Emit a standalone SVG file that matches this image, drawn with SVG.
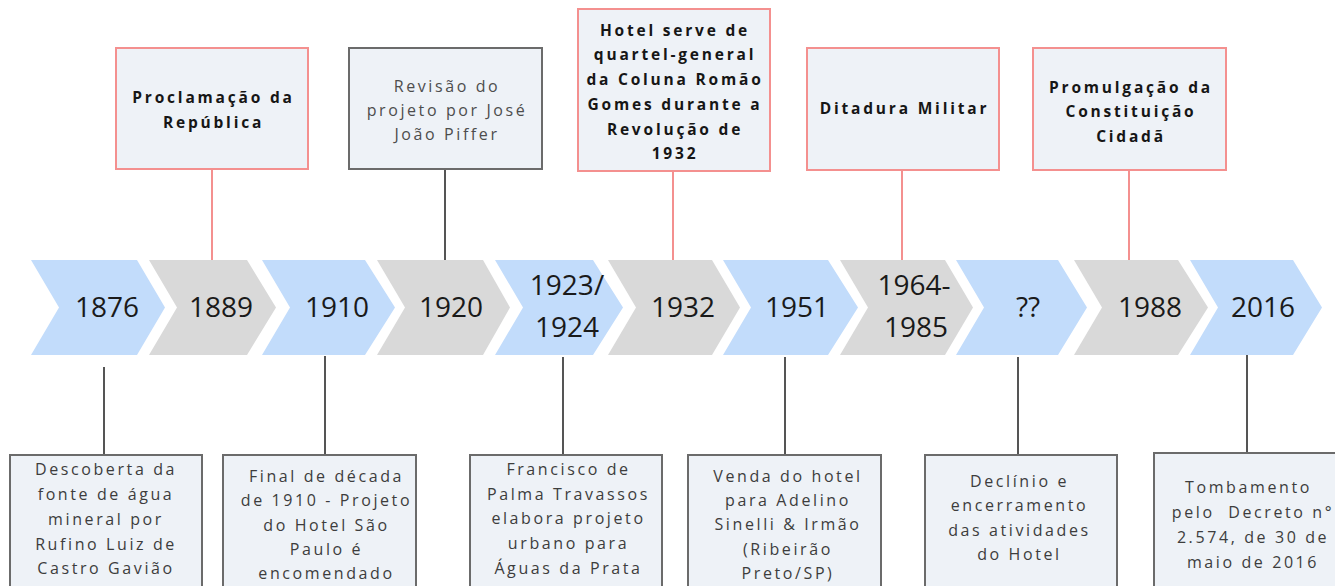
<svg xmlns="http://www.w3.org/2000/svg" width="1335" height="586" viewBox="0 0 1335 586">
<style>
.bg{fill:#ffffff}
.blue{fill:#c2dcfb}
.gray{fill:#d9d9d9}
.yr{font-family:"Open Sans","Noto Sans",sans-serif;font-weight:400;font-size:28px;fill:#1a1a1a;text-anchor:middle}
.boxr{fill:#eef2f7;stroke:#f4908f;stroke-width:2}
.boxg{fill:#eef2f7;stroke:#6b6b6b;stroke-width:2}
.tb{font-family:"Open Sans","Noto Sans",sans-serif;font-weight:700;font-size:15.5px;letter-spacing:2.8px;fill:#161616;text-anchor:middle}
.tr{font-family:"Open Sans","Noto Sans",sans-serif;font-weight:400;font-size:16px;letter-spacing:2.6px;fill:#3d3d3d;text-anchor:middle}
.tg{font-family:"Open Sans","Noto Sans",sans-serif;font-weight:400;font-size:16px;letter-spacing:2.6px;fill:#4d4d4d;text-anchor:middle}
.cr{stroke:#f4908f;stroke-width:2;fill:none}
.cg{stroke:#555;stroke-width:2;fill:none}
</style>
<rect class="bg" x="0" y="0" width="1335" height="586"/>
<g id="connectors">
<line class="cr" x1="212" y1="169" x2="212" y2="260"/>
<line class="cg" x1="445" y1="169" x2="445" y2="260"/>
<line class="cr" x1="673" y1="171" x2="673" y2="260"/>
<line class="cr" x1="902" y1="170" x2="902" y2="260"/>
<line class="cr" x1="1129" y1="170" x2="1129" y2="260"/>
<line class="cg" x1="104" y1="367" x2="104" y2="455"/>
<line class="cg" x1="325" y1="356" x2="325" y2="455"/>
<line class="cg" x1="563" y1="357" x2="563" y2="455"/>
<line class="cg" x1="785" y1="357" x2="785" y2="455"/>
<line class="cg" x1="1018" y1="357" x2="1018" y2="455"/>
<line class="cg" x1="1247" y1="354" x2="1247" y2="453"/>
</g>
<g id="timeline">
<g id="y1876"><polygon class="blue" points="31,260 137,260 165,307.5 137,355 31,355 59,307.5"/><text class="yr" x="107" y="317">1876</text></g>
<g id="y1889"><polygon class="gray" points="149,260 247,260 276,307.5 247,355 149,355 177,307.5"/><text class="yr" x="221" y="317">1889</text></g>
<g id="y1910"><polygon class="blue" points="262,260 365,260 395,307.5 365,355 262,355 290,307.5"/><text class="yr" x="337" y="317">1910</text></g>
<g id="y1920"><polygon class="gray" points="377,260 483,260 510,307.5 483,355 377,355 405,307.5"/><text class="yr" x="451" y="317">1920</text></g>
<g id="y1923"><polygon class="blue" points="495,260 593,260 623,307.5 593,355 495,355 523,307.5"/><text class="yr" x="567" y="295">1923/</text><text class="yr" x="567" y="337">1924</text></g>
<g id="y1932"><polygon class="gray" points="608,260 712,260 740,307.5 712,355 608,355 636,307.5"/><text class="yr" x="683" y="317">1932</text></g>
<g id="y1951"><polygon class="blue" points="723,260 828,260 858,307.5 828,355 723,355 751,307.5"/><text class="yr" x="797" y="317">1951</text></g>
<g id="y1964"><polygon class="gray" points="840,260 945,260 973,307.5 945,355 840,355 868,307.5"/><text class="yr" x="914" y="295">1964-</text><text class="yr" x="916" y="337">1985</text></g>
<g id="yqq"><polygon class="blue" points="956,260 1058,260 1087,307.5 1058,355 956,355 984,307.5"/><text class="yr" x="1028" y="317">??</text></g>
<g id="y1988"><polygon class="gray" points="1074,260 1178,260 1208,307.5 1178,355 1074,355 1102,307.5"/><text class="yr" x="1150" y="317">1988</text></g>
<g id="y2016"><polygon class="blue" points="1190,260 1293,260 1322,307.5 1293,355 1190,355 1218,307.5"/><text class="yr" x="1263" y="317">2016</text></g>
</g>
<g id="top1"><rect class="boxr" x="116" y="48" width="192" height="121"/>
<text class="tb" x="213.5" y="103">Proclamação da</text><text class="tb" x="213.5" y="128">República</text></g>
<g id="top2"><rect class="boxg" x="349" y="48" width="193" height="121"/>
<text class="tg" x="447" y="92">Revisão do</text><text class="tg" x="447" y="116">projeto por José</text><text class="tg" x="447" y="140">João Piffer</text></g>
<g id="top3"><rect class="boxr" x="578" y="9" width="192" height="162"/>
<text class="tb" x="675" y="36">Hotel serve de</text><text class="tb" x="675" y="60">quartel-general</text><text class="tb" x="675" y="85">da Coluna Romão</text><text class="tb" x="675" y="110">Gomes durante a</text><text class="tb" x="675" y="135">Revolução de</text><text class="tb" x="675" y="159">1932</text></g>
<g id="top4"><rect class="boxr" x="807" y="48" width="192" height="122"/>
<text class="tb" x="904.5" y="114">Ditadura Militar</text></g>
<g id="top5"><rect class="boxr" x="1033" y="48" width="193" height="122"/>
<text class="tb" x="1131" y="93">Promulgação da</text><text class="tb" x="1131" y="117">Constituição</text><text class="tb" x="1131" y="142">Cidadã</text></g>
<g id="bot1"><rect class="boxg" x="10" y="455" width="192" height="150"/>
<text class="tr" x="106" y="475">Descoberta da</text><text class="tr" x="106" y="500">fonte de água</text><text class="tr" x="106" y="525">mineral por</text><text class="tr" x="106" y="550">Rufino Luiz de</text><text class="tr" x="106" y="574">Castro Gavião</text></g>
<g id="bot2"><rect class="boxg" x="223" y="455" width="193" height="150"/>
<text class="tr" x="326.5" y="482">Final de década</text><text class="tr" x="326.5" y="506">de 1910 - Projeto</text><text class="tr" x="326.5" y="531">do Hotel São</text><text class="tr" x="326.5" y="555">Paulo é</text><text class="tr" x="326.5" y="579">encomendado</text></g>
<g id="bot3"><rect class="boxg" x="470" y="455" width="192" height="150"/>
<text class="tr" x="568.5" y="475">Francisco de</text><text class="tr" x="568.5" y="500">Palma Travassos</text><text class="tr" x="568.5" y="524">elabora projeto</text><text class="tr" x="568.5" y="549">urbano para</text><text class="tr" x="568.5" y="574">Águas da Prata</text></g>
<g id="bot4"><rect class="boxg" x="688" y="455" width="193" height="150"/>
<text class="tr" x="788" y="482">Venda do hotel</text><text class="tr" x="788" y="506">para Adelino</text><text class="tr" x="788" y="530">Sinelli &amp; Irmão</text><text class="tr" x="788" y="555">(Ribeirão</text><text class="tr" x="788" y="579">Preto/SP)</text></g>
<g id="bot5"><rect class="boxg" x="925" y="455" width="192" height="150"/>
<text class="tr" x="1019.5" y="487">Declínio e</text><text class="tr" x="1019.5" y="511">encerramento</text><text class="tr" x="1019.5" y="536">das atividades</text><text class="tr" x="1019.5" y="560">do Hotel</text></g>
<g id="bot6"><rect class="boxg" x="1154" y="453" width="192" height="150"/>
<text class="tr" x="1248.5" y="493">Tombamento</text><text class="tr" x="1253" y="518" xml:space="preserve">pelo  Decreto n°</text><text class="tr" x="1253" y="543">2.574, de 30 de</text><text class="tr" x="1253" y="568">maio de 2016</text></g>
</svg>
